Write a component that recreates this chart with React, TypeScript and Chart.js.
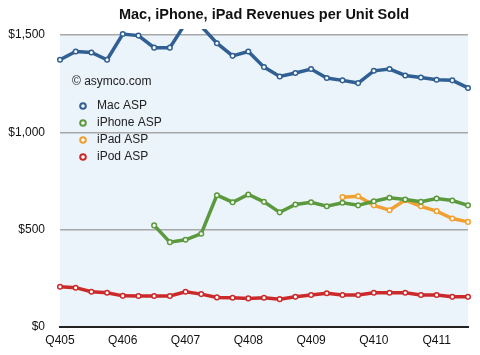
import React, { useEffect, useRef } from "react";
import { Chart, registerables } from "chart.js";

Chart.register(...registerables);

const quarters = [
  "Q405", "Q106", "Q206", "Q306", "Q406", "Q107", "Q207", "Q307", "Q407",
  "Q108", "Q208", "Q308", "Q408", "Q109", "Q209", "Q309", "Q409", "Q110",
  "Q210", "Q310", "Q410", "Q111", "Q211", "Q311", "Q411", "Q112", "Q212",
];

const macASP = [
  1373, 1415, 1410, 1373, 1505, 1497, 1435, 1435, 1560, 1545, 1458, 1393, 1415,
  1335, 1287, 1305, 1325, 1279, 1267, 1253, 1316, 1325, 1292, 1282, 1270, 1267, 1228,
];

const iPhoneASP = [
  null, null, null, null, null, null, 522, 436, 448, 479, 677, 641, 681,
  643, 589, 629, 641, 620, 638, 625, 646, 664, 655, 643, 660, 650, 625,
];

const iPadASP = [
  null, null, null, null, null, null, null, null, null, null, null, null, null,
  null, null, null, null, null, 667, 672, 625, 600, 652, 620, 595, 557, 540,
];

const iPodASP = [
  207, 202, 181, 176, 160, 159, 159, 159, 181, 169, 152, 150, 147,
  150, 143, 155, 164, 173, 164, 164, 176, 176, 176, 164, 164, 155, 155,
];

const yTicks = [0, 500, 1000, 1500];
const titleText = "Mac, iPhone, iPad Revenues per Unit Sold";
const creditText = "© asymco.com";

const COLORS = {
  mac: "#2f5f93",
  iphone: "#5a9a3c",
  ipad: "#f0a030",
  ipod: "#cc2a2a",
};

const FONT = "'Liberation Sans', Arial, Helvetica, sans-serif";

function makeDataset(label: string, data: (number | null)[], color: string) {
  return {
    label,
    data,
    borderColor: color,
    backgroundColor: color,
    borderWidth: 3.5,
    tension: 0,
    pointRadius: 2.3,
    pointBorderWidth: 1.5,
    pointBackgroundColor: "#ffffff",
    pointBorderColor: color,
    spanGaps: false,
    clip: { left: 6, top: 6, right: 6, bottom: 6 },
  };
}

const bgPlugin = {
  id: "areaBg",
  beforeDraw(chart: any) {
    const { ctx, chartArea } = chart;
    ctx.save();
    ctx.fillStyle = "#ebf3fb";
    ctx.fillRect(chartArea.left, chartArea.top, chartArea.right - chartArea.left, chartArea.bottom - chartArea.top);
    ctx.restore();
  },
};

const overlayPlugin = {
  id: "overlay",
  afterDraw(chart: any) {
    const { ctx, chartArea } = chart;
    ctx.save();
    // title
    ctx.fillStyle = "#111";
    ctx.font = `bold 14.5px ${FONT}`;
    ctx.textAlign = "center";
    ctx.textBaseline = "middle";
    ctx.fillText(titleText, (chartArea.left + chartArea.right) / 2, 15);

    // credit + legend
    ctx.font = `12px ${FONT}`;
    ctx.textAlign = "left";
    ctx.fillStyle = "#222";
    ctx.fillText(creditText, 72, 82);
    chart.data.datasets.forEach((ds: any, i: number) => {
      const y = 106 + i * 17;
      ctx.beginPath();
      ctx.arc(83, y, 2.8, 0, Math.PI * 2);
      ctx.fillStyle = "#ffffff";
      ctx.fill();
      ctx.lineWidth = 2;
      ctx.strokeStyle = ds.borderColor;
      ctx.stroke();
      ctx.fillStyle = "#222";
      ctx.fillText(ds.label, 97, y);
    });
    ctx.restore();
  },
};

export default function App() {
  const canvasRef = useRef<HTMLCanvasElement>(null);

  useEffect(() => {
    document.body.style.margin = "0";
    const canvas = canvasRef.current;
    if (!canvas) return;
    const chart = new Chart(canvas, {
      type: "line",
      data: {
        labels: quarters,
        datasets: [
          makeDataset("Mac ASP", macASP, COLORS.mac),
          makeDataset("iPhone ASP", iPhoneASP, COLORS.iphone),
          makeDataset("iPad ASP", iPadASP, COLORS.ipad),
          makeDataset("iPod ASP", iPodASP, COLORS.ipod),
        ],
      },
      options: {
        animation: false,
        responsive: false,
        maintainAspectRatio: false,
        layout: { padding: { top: 35, right: 12, left: 0, bottom: 0 } },
        plugins: {
          legend: { display: false },
          title: { display: false },
          tooltip: { enabled: false },
        },
        scales: {
          x: {
            offset: false,
            grid: { display: false, drawTicks: false },
            border: { display: true, color: "#222", width: 2 },
            ticks: {
              autoSkip: false,
              maxRotation: 0,
              minRotation: 0,
              padding: 6,
              color: "#111",
              font: { family: FONT, size: 12 },
              callback: (_v: any, i: number) => (i % 4 === 0 ? quarters[i] : ""),
            },
            afterFit: (scale: any) => {
              scale.height = 28;
            },
          },
          y: {
            min: yTicks[0],
            max: yTicks[yTicks.length - 1],
            afterBuildTicks: (scale: any) => {
              scale.ticks = yTicks.map((v) => ({ value: v }));
            },
            grid: {
              drawTicks: false,
              color: (ctx: any) => (ctx.tick && ctx.tick.value === 0 ? "rgba(0,0,0,0)" : "#a8a8a8"),
              lineWidth: 1.5,
            },
            border: { display: false },
            ticks: {
              padding: 15,
              color: "#111",
              font: { family: FONT, size: 12 },
              callback: (v: any) => "$" + Number(v).toLocaleString("en-US"),
            },
            afterFit: (scale: any) => {
              scale.width = 60;
            },
          },
        },
      },
      plugins: [bgPlugin, overlayPlugin],
    });
    return () => chart.destroy();
  }, []);

  return <canvas ref={canvasRef} width={480} height={355} style={{ display: "block" }} />;
}
